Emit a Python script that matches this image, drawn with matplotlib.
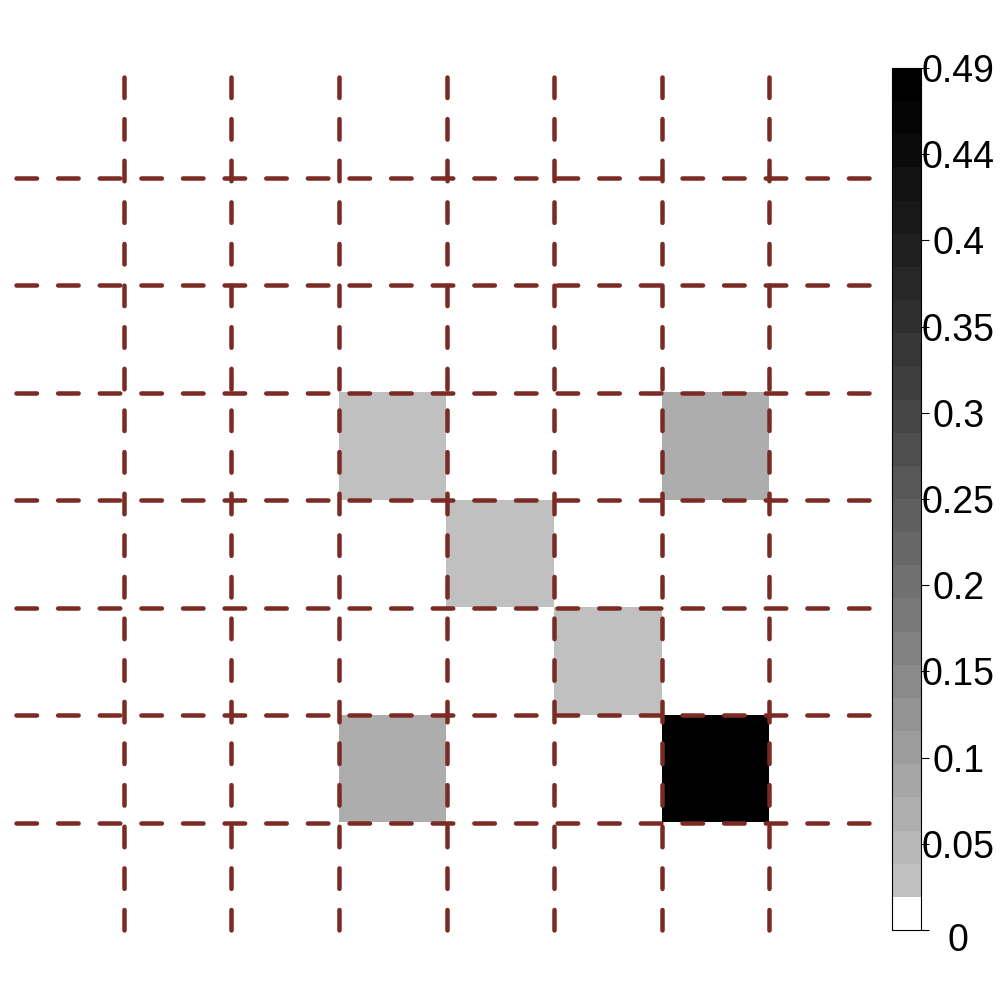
import numpy as np
import matplotlib
matplotlib.use("Agg")
import matplotlib.pyplot as plt
from matplotlib.colors import ListedColormap, BoundaryNorm
from matplotlib.transforms import ScaledTranslation

plt.rcParams['font.family'] = ['Liberation Sans', 'DejaVu Sans']

############
# data: 8x8 matrix, row 0 at top
############
n = 8
rows = [3, 3, 4, 5, 6, 6]
cols = [3, 6, 4, 5, 3, 6]
vals = [0.03, 0.065, 0.03, 0.03, 0.065, 0.49]

vmax = 0.49
nlev = 26
tick_labels = ['0', '0.05', '0.1', '0.15', '0.2', '0.25', '0.3', '0.35', '0.4', '0.44', '0.49']

M = np.zeros((n, n))
for r, c, v in zip(rows, cols, vals):
    M[r, c] = v

# discrete grey map: white for the lowest band, then light grey -> black
k = np.arange(1, nlev)
g = 192 * (1 - (k - 1) / (nlev - 2)) ** 1.15 / 255.0
colors = [(1, 1, 1)] + [(x, x, x) for x in g]
cmap = ListedColormap(colors)
bounds = np.linspace(0, vmax, nlev + 1)
norm = BoundaryNorm(bounds, cmap.N)

fig = plt.figure(figsize=(10, 10), dpi=100)
ax = fig.add_axes([0.016, 0.070, 0.861, 0.860])
im = ax.imshow(M, cmap=cmap, norm=norm, interpolation='nearest',
               extent=[0, n, n, 0], aspect='auto')
ax.set_xlim(0, n)
ax.set_ylim(n, 0)
ax.axis('off')

# dashed grid lines
lc = '#7B2B24'
lw = 3.24
for i in range(1, n):
    ax.plot([i, i], [n, 0], color=lc, lw=lw, dashes=(4.56, 4.69),
            dash_capstyle='round', clip_on=False)
    ax.plot([0, n], [i, i], color=lc, lw=lw, dashes=(4.56, 4.69),
            dash_capstyle='round', clip_on=False)

# colorbar
cax = fig.add_axes([0.892, 0.070, 0.029, 0.862])
cb = fig.colorbar(im, cax=cax, ticks=np.linspace(0, vmax, len(tick_labels)))
cb.set_ticklabels(tick_labels)
cb.outline.set_linewidth(0.8)
cax.minorticks_off()
cax.tick_params(axis='y', which='minor', length=0)
cax.tick_params(axis='y', length=5.8, width=0.8, pad=20.9, labelsize=27)
for lab in cax.get_yticklabels():
    lab.set_horizontalalignment('center')
zero = cax.get_yticklabels()[0]
zero.set_transform(zero.get_transform() + ScaledTranslation(0, -0.07, fig.dpi_scale_trans))

fig.savefig('out.png', dpi=100)
